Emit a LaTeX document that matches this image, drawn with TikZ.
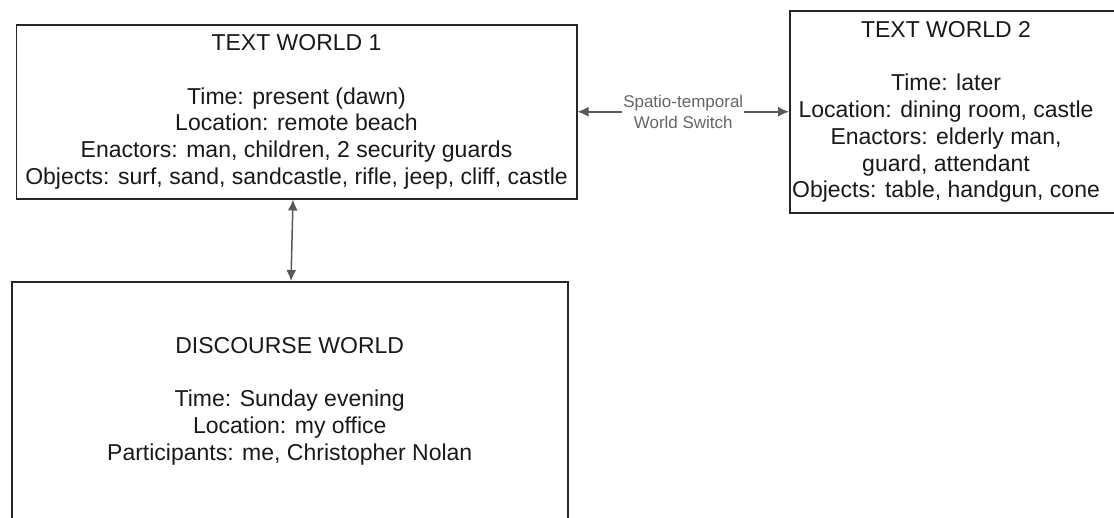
\documentclass[tikz,border=0pt]{standalone}
\usepackage{fontspec}
\setmainfont{Liberation Sans}
\usetikzlibrary{arrows.meta,calc}
\begin{document}
\begin{tikzpicture}[x=1pt,y=-1pt,
  world/.style={draw=black!85, line width=1.5pt, rectangle, inner sep=0pt, align=center,
    font=\fontsize{23}{26.7}\selectfont, text=black!90},
  worldtext/.style={inner sep=0pt, align=center, font=\fontsize{23}{26.7}\selectfont, text=black!90},
  link/.style={draw=black!65, line width=1.5pt,
    {Latex[length=11pt,width=10pt]}-{Latex[length=11pt,width=10pt]}},
  switchlabel/.style={fill=white, inner sep=1pt, align=center,
    font=\fontsize{17}{21}\selectfont, text=black!60}]
\useasboundingbox (0,0) rectangle (1114,517);
\node[world, anchor=north west, minimum width=560.5pt, minimum height=174pt] (b1) at (15.5,24)
  {TEXT WORLD 1\\[26.7pt]
   Time: present (dawn)\\
   Location: remote beach\\
   Enactors: man, children, 2 security guards\\
   Objects: surf, sand, sandcastle, rifle, jeep, cliff, castle};
\node[world, anchor=north west, minimum width=345pt, minimum height=202pt] (b2) at (789,10) {};
\node[worldtext] (t2) at (946,112)
  {TEXT WORLD 2\\[26.7pt]
   Time: later\\
   Location: dining room, castle\\
   Enactors: elderly man,\\
   guard, attendant\\
   Objects: table, handgun, cone};
\node[world, anchor=north west, minimum width=556pt, minimum height=239pt] (b3) at (11,281)
  {DISCOURSE WORLD\\[26.7pt]
   Time: Sunday evening\\
   Location: my office\\
   Participants: me, Christopher Nolan};
\draw[link] (b1.east) -- (b2.west)
  node[midway, switchlabel] (sw) {Spatio-temporal\\World Switch};
\coordinate (v1) at ($(b1.south west)+(277.5,0)$);
\coordinate (v2) at ($(b3.north west)+(280,0)$);
\draw[link] (v1) -- (v2);
\end{tikzpicture}
\end{document}
